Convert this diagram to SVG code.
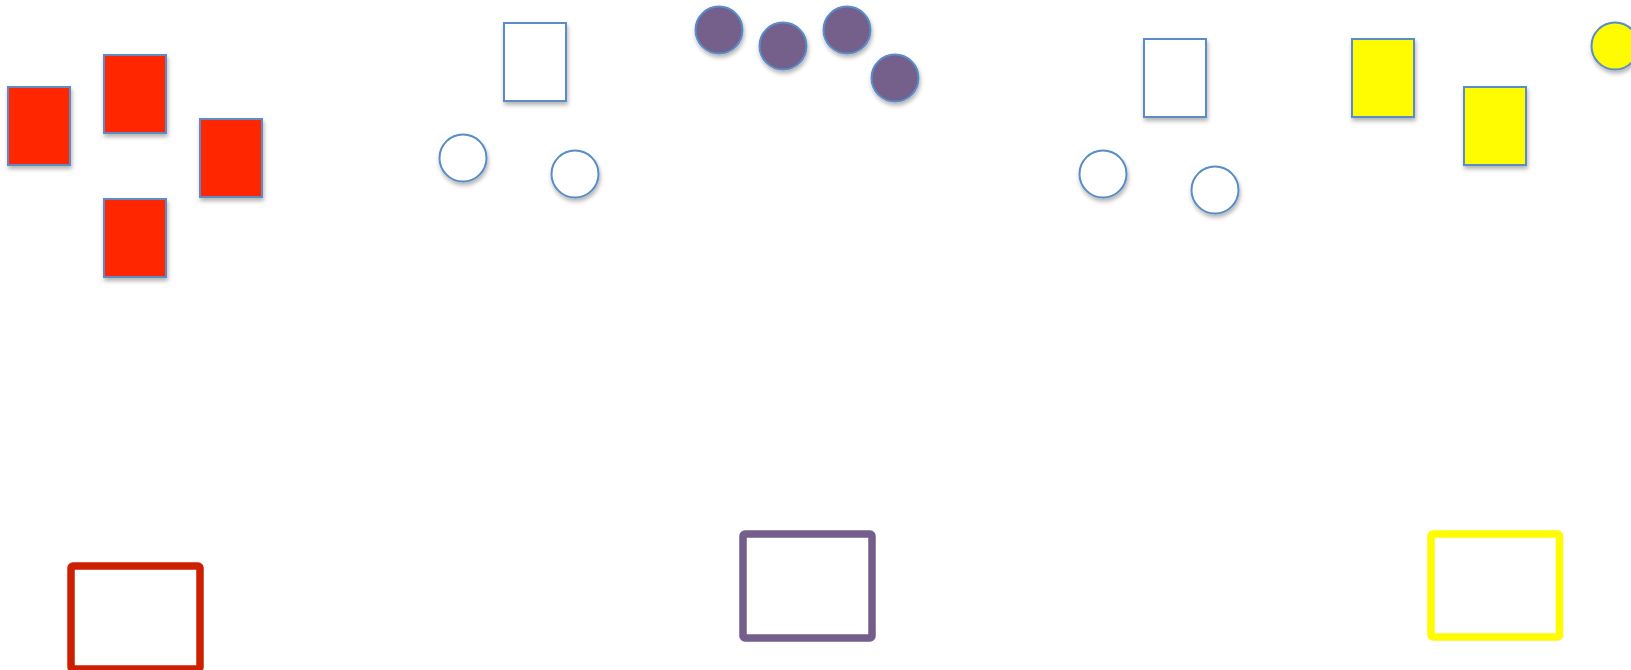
<svg xmlns="http://www.w3.org/2000/svg" width="1631" height="670" viewBox="0 0 1631 670">
<defs>
<filter id="sh" x="-30%" y="-30%" width="160%" height="160%">
<feDropShadow dx="1" dy="3" stdDeviation="2" flood-color="#000" flood-opacity="0.3"/>
</filter>
</defs>
<style>
.s{stroke:#5A8DC8;stroke-width:2;filter:url(#sh)}
.red{fill:#FF2600}
.wh{fill:#FFFFFF}
.pu{fill:#745E8B}
.ye{fill:#FFFB00}
.fr{fill:none;stroke-width:7.5;stroke-linejoin:round}
</style>
<rect width="1631" height="670" fill="#FFFFFF"/>
<g id="red-group">
<rect id="r1" class="s red" x="8" y="87" width="62" height="78"/>
<rect id="r2" class="s red" x="104" y="55" width="62" height="78"/>
<rect id="r3" class="s red" x="200" y="119" width="62" height="78"/>
<rect id="r4" class="s red" x="104" y="199" width="62" height="78"/>
</g>
<g id="white-group-1">
<rect id="w1" class="s wh" x="504" y="23" width="62" height="78"/>
<circle id="wc1" class="s wh" cx="463" cy="158" r="23.5"/>
<circle id="wc2" class="s wh" cx="575" cy="174" r="23.5"/>
</g>
<g id="purple-group">
<circle id="p1" class="s pu" cx="719" cy="30" r="23.5"/>
<circle id="p2" class="s pu" cx="783" cy="46" r="23.5"/>
<circle id="p3" class="s pu" cx="847" cy="30" r="23.5"/>
<circle id="p4" class="s pu" cx="895" cy="78" r="23.5"/>
</g>
<g id="white-group-2">
<rect id="w2" class="s wh" x="1144" y="39" width="62" height="78"/>
<circle id="wc3" class="s wh" cx="1103" cy="174" r="23.5"/>
<circle id="wc4" class="s wh" cx="1215" cy="190" r="23.5"/>
</g>
<g id="yellow-group">
<rect id="y1" class="s ye" x="1352" y="39" width="62" height="78"/>
<rect id="y2" class="s ye" x="1464" y="87" width="62" height="78"/>
<circle id="yc1" class="s ye" cx="1615" cy="46" r="23.5"/>
</g>
<g id="frames">
<rect id="frame-red" class="fr" stroke="#CD2000" x="71" y="566" width="129" height="103" rx="2"/>
<rect id="frame-purple" class="fr" stroke="#745E8B" x="743" y="534" width="129" height="104" rx="2"/>
<rect id="frame-yellow" class="fr" stroke="#FFFB00" x="1431" y="534" width="128.5" height="103" rx="2"/>
</g>
<g id="connectors"></g>
</svg>
